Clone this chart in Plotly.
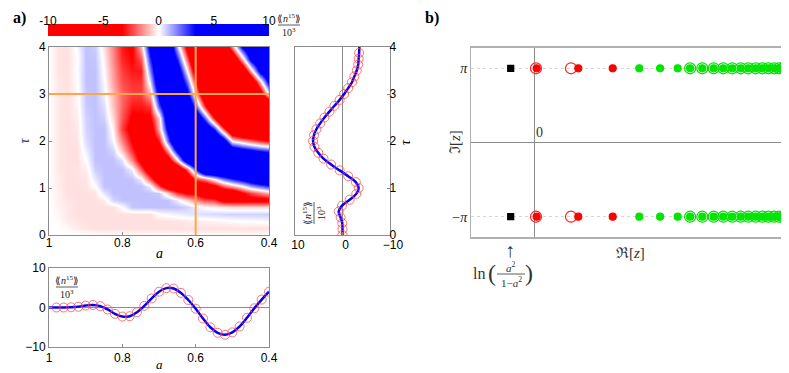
import plotly.graph_objects as go

W, H = 789, 373
OFF = 8  # the page body margin shifts the figure by 8 px

# ---- panel a) heatmap (units of 10^3) ----
A_GRID = [1.0, 0.975, 0.95, 0.925, 0.9, 0.875, 0.85, 0.825, 0.8, 0.775, 0.75, 0.725, 0.7,
          0.675, 0.65, 0.625, 0.6, 0.575, 0.55, 0.525, 0.5, 0.475, 0.45, 0.425, 0.4]
TAU_GRID = [0, 0.05, 0.15, 0.3, 0.45, 0.6, 0.75, 0.9, 1.05, 1.2, 1.4, 1.6, 1.8, 2.0,
            2.25, 2.5, 2.75, 3.0, 3.25, 3.5, 3.75, 4.0]
N15_GRID = [
    [0, 0, 0, 0, 0, 0, 0, 0, 0, 0, 0, 0, 0, 0, 0, 0, 0, 0, 0, 0, 0, 0, 0, 0, 0],
    [0, 0, 0, -0.05, -0.1, -0.12, -0.15, -0.15, -0.15, -0.15, -0.15, -0.15, -0.15,
     -0.15, -0.15, -0.15, -0.15, -0.15, -0.15, -0.15, -0.15, -0.15, -0.15, -0.15, -0.15],
    [0, 0, -0.1, -0.25, -0.35, -0.4, -0.4, -0.4, -0.4, -0.4, -0.4, -0.4, -0.4,
     -0.4, -0.4, -0.4, -0.4, -0.4, -0.4, -0.4, -0.4, -0.4, -0.4, -0.4, -0.4],
    [0, -0.05, -0.25, -0.35, -0.4, -0.4, -0.4, -0.4, -0.4, -0.4, -0.4, -0.4, -0.4,
     -0.4, -0.35, -0.3, -0.23, -0.2, -0.17, -0.1, -0.06, 0, 0.02, 0.05, 0.1],
    [0, -0.1, -0.3, -0.4, -0.4, -0.4, -0.4, -0.4, -0.4, -0.4, -0.4, -0.4, 0,
     0.1, 0.2, 0.3, 0.4, 0.45, 0.5, 0.55, 0.6, 0.6, 0.6, 0.6, 0.6],
    [0, -0.15, -0.3, -0.4, -0.4, -0.4, -0.4, -0.4, 0, 0.75, 0.8, 0.8, 0.8,
     0.8, 0.8, 0.6, 0.2, 0, -0.2, -0.3, -0.5, -0.5, -0.5, -0.5, -0.5],
    [0, -0.2, -0.35, -0.4, -0.4, -0.4, -0.25, 0.55, 0.8, 0.8, 0.8, 0.8, 0.8,
     0.8, 0.25, -0.6, -1.6, -2.3, -2.5, -4, -4, -4, -4, -4, -4],
    [0, -0.2, -0.4, -0.4, -0.4, -0.35, 0.37, 0.8, 0.8, 0.8, 0.8, 0.8, 0.7,
     -0.6, -2.5, -3.5, -3.5, -5, -5.5, -5.5, -5.5, -3.5, -2.4, -1.7, -1.0],
    [0, -0.25, -0.4, -0.4, -0.35, 0, 0.8, 0.8, 0.8, 0.8, 0.8, 0.2, -2.5,
     -5, -6, -6, -5, -5, -3.8, -2.1, -1.0, 0, 1.3, 2.1, 2.8],
    [0, -0.25, -0.4, -0.4, -0.35, 0.3, 0.8, 0.8, 0.8, 0.8, 0.18, -2.2, -5,
     -6, -6, -5.9, -2.5, -1.5, 0, 1.7, 2.8, 3.9, 5, 6, 6.5],
    [0, -0.3, -0.4, -0.35, -0.25, 0.65, 0.8, 0.8, 0.8, 0.18, -2.2, -5, -6,
     -6, -6, -2.0, 3.0, 8, 8, 8, 8, 8, 8, 8, 8],
    [0, -0.3, -0.4, -0.4, 0, 0.8, 0.8, 0.8, 0.37, -1.6, -4, -5.5, -6,
     -4.6, -0.4, 5.4, 8, 8, 8, 8, 8, 8, 8, 7.7, 7],
    [0, -0.3, -0.4, -0.4, 0.25, 0.8, 0.8, 0.55, -0.8, -2.8, -4.5, -5, -5,
     -1.0, 4, 8, 8, 8, 8, 8, 5, 4, 3.3, 2.6, 2.1],
    [0, -0.3, -0.4, -0.35, 0.45, 0.8, 0.8, 0.1, -1.6, -3.4, -5, -5, -3.0,
     2.0, 7, 8, 8, 8, 8, 5, 0, -1.0, -1.8, -2.6, -3.1],
    [0, -0.3, -0.4, -0.3, 0.55, 0.8, 0.8, -0.15, -2.5, -4, -4.5, -4.5, -1.0,
     4, 6, 6, 6, 6, 3.0, -2.0, -6.5, -8, -8, -8, -8],
    [0, -0.3, -0.4, -0.25, 0.6, 0.8, 0.6, -0.5, -2.2, -3.5, -3.5, -3.5, -0.6,
     5.6, 6, 6, 6, 2.0, -3.0, -8, -8, -8, -8, -8, -8],
    [0, -0.3, -0.4, -0.15, 0.7, 0.8, 0.4, -0.8, -2.0, -3.0, -3.0, -2.6, 2.4,
     6, 6, 6, 2.0, -3.0, -8, -8, -8, -8, -8, -8, -8],
    [0, -0.3, -0.4, -0.1, 0.75, 0.8, 0.2, -0.9, -2.0, -2.5, -2.5, -1.0, 4,
     6, 6, 4, -1.0, -6, -8, -8, -8, -8, -8, -5, 0.3],
    [0, -0.3, -0.4, -0.04, 0.8, 0.8, 0.07, -1.2, -2.3, -2.7, -2.7, 0.4, 5.4,
     6, 6, 2.0, -3.0, -8, -8, -8, -8, -8, -6, -1.0, 4],
    [0, -0.35, -0.4, 0, 0.8, 0.8, -0.05, -1.3, -2.5, -3.0, -3.0, 1.6, 6,
     6, 5, 0, -5, -8, -8, -8, -8, -6, -1.0, 4, 6],
    [0, -0.35, -0.4, -0.05, 0.8, 0.75, -0.2, -1.5, -2.8, -3.3, -2.2, 2.8, 6,
     6, 3.0, -2.0, -7, -8, -8, -8, -6, -1.0, 4, 6, 6],
    [0, -0.35, -0.4, 0.07, 0.8, 0.65, -0.4, -1.6, -3.0, -3.5, -1.0, 4.0, 6,
     6, 1.0, -4.0, -8, -8, -8, -6.6, -1.6, 3.4, 6, 6, 6],
]
assert all(len(r) == len(A_GRID) for r in N15_GRID) and len(N15_GRID) == len(TAU_GRID)
CUT_A = 0.6
CUT_TAU = 3.0
CBAR_VALS = [-10, 10]
CBAR_TICKS = [-10, -5, 0, 5, 10]

# ---- cut at a = 0.6 (right panel) ----
TAU_CUT = [0, 0.125, 0.25, 0.375, 0.5, 0.625, 0.75, 0.875, 1.0, 1.125, 1.25, 1.375, 1.5,
           1.625, 1.75, 1.875, 2.0, 2.125, 2.25, 2.375, 2.5, 2.625, 2.75, 2.875, 3.0,
           3.125, 3.25, 3.375, 3.5, 3.625, 3.75, 3.875, 4.0]
N15_A06 = [0, 0, 0.05, 0.4, 0.8, 0.1, -1.5, -2.9, -3.4, -2.8, -1.2, 0.6, 2.4,
           4.0, 5.1, 5.9, 6.2, 6.0, 5.5, 4.7, 3.8, 2.75, 1.7, 0.6, -0.35,
           -1.2, -2.0, -2.5, -3.0, -3.3, -3.4, -3.5, -3.55]

# ---- cut at tau = 3 (bottom panel) ----
A_CUT = [1.0, 0.98, 0.96, 0.94, 0.92, 0.90, 0.88, 0.86, 0.84, 0.82, 0.80, 0.78, 0.76,
         0.74, 0.72, 0.70, 0.68, 0.66, 0.64, 0.62, 0.60, 0.58, 0.56, 0.54, 0.52, 0.50,
         0.48, 0.46, 0.44, 0.42, 0.40]
N15_T3 = [0, 0, 0, 0.05, 0.2, 0.5, 0.65, 0.35, -0.5, -1.6, -2.3, -2.2, -1.2,
          0.4, 2.3, 4.0, 4.9, 4.8, 3.7, 1.9, -0.3, -2.8, -5.0, -6.4, -6.9, -6.3,
          -4.8, -2.6, -0.2, 2.0, 4.0]

# ---- panel b) zeros in the complex plane (Re z), at Im z = +-pi ----
PI = 3.141592653589793
SQUARE_RE = [-1.18]
RED_DOT_RE = [0.12, 2.2, 3.92]
RED_RING_RE = [0.085, 1.835]
GREEN_DOT_RE = [5.25, 6.29, 7.17, 7.79, 8.4, 8.97, 9.45, 9.9, 10.32, 10.7, 11.07,
                11.4, 11.7, 11.99, 12.24, 12.45, 12.65]
GREEN_RING_RE = [7.79, 8.4, 8.97, 9.45, 9.9, 10.32, 10.7, 11.07, 11.4, 11.7,
                 11.99, 12.24, 12.45, 12.65]


def px(x):
    return (x - OFF) / W


def py(y):
    return 1 - (y - OFF) / H


def both_rows(re):
    return re + re, [PI] * len(re) + [-PI] * len(re)


SANS = "Liberation Sans"
SERIF = "Liberation Serif"
GRAY = "#8c8c8c"
RWB = [[0, "rgb(255,0,0)"], [0.335, "rgb(255,0,0)"], [0.5, "rgb(255,255,255)"],
       [0.665, "rgb(0,0,255)"], [1, "rgb(0,0,255)"]]

fig = go.Figure()

fig.add_trace(go.Heatmap(
    x=A_GRID, y=TAU_GRID, z=N15_GRID, zsmooth="best", zmin=-10, zmax=10,
    colorscale=RWB, showscale=False, xaxis="x", yaxis="y",
))
# colour bar drawn as its own strip so the labels can sit on top
fig.add_trace(go.Heatmap(
    x=CBAR_VALS, y=[0, 1], z=[CBAR_VALS, CBAR_VALS], zsmooth="best", zmin=-10, zmax=10,
    colorscale=RWB, showscale=False, xaxis="x5", yaxis="y5",
))

# right cut
fig.add_trace(go.Scatter(x=N15_A06, y=TAU_CUT, mode="lines", line=dict(color="blue", width=2.5, shape="spline"),
                         xaxis="x2", yaxis="y2", showlegend=False))
fig.add_trace(go.Scatter(x=N15_A06[:-1], y=TAU_CUT[:-1], mode="markers",
                         marker=dict(symbol="circle-open", size=9, color="rgba(255,70,70,0.75)", line=dict(width=1)),
                         xaxis="x2", yaxis="y2", showlegend=False))
# bottom cut
fig.add_trace(go.Scatter(x=A_CUT, y=N15_T3, mode="lines", line=dict(color="blue", width=2.5, shape="spline"),
                         xaxis="x3", yaxis="y3", showlegend=False))
fig.add_trace(go.Scatter(x=A_CUT[1:], y=N15_T3[1:], mode="markers",
                         marker=dict(symbol="circle-open", size=9, color="rgba(255,70,70,0.75)", line=dict(width=1)),
                         xaxis="x3", yaxis="y3", showlegend=False))

# panel b
for re, sym, size, col in [
    (GREEN_RING_RE, "circle-open", 11, "#00dd00"),
    (RED_RING_RE, "circle-open", 11, "#ff2020"),
    (GREEN_DOT_RE, "circle", 7, "#00e600"),
    (RED_DOT_RE, "circle", 7, "#ff0000"),
    (SQUARE_RE, "square", 6, "black"),
]:
    xs, ys = both_rows(re)
    fig.add_trace(go.Scatter(x=xs, y=ys, mode="markers",
                             marker=dict(symbol=sym, size=size, color=col, line=dict(width=1.2, color=col)),
                             xaxis="x4", yaxis="y4", showlegend=False))

box = dict(showline=True, linecolor=GRAY, linewidth=1, mirror=True, showgrid=False,
           ticks="inside", ticklen=3, tickcolor=GRAY,
           tickfont=dict(family=SANS, size=12, color="black"))
dom_heat_x = [px(49), px(269)]
dom_heat_y = [py(235), py(47)]

fig.update_layout(
    width=W, height=H, margin=dict(l=0, r=0, t=0, b=0, autoexpand=False),
    paper_bgcolor="white", plot_bgcolor="white", showlegend=False,
    xaxis=dict(box, domain=dom_heat_x, range=[1, 0.4], tickvals=[1, 0.8, 0.6, 0.4],
               ticktext=["1", "0.8", "0.6", "0.4"], zeroline=False, ticklabelstandoff=-3),
    yaxis=dict(box, domain=dom_heat_y, range=[0, 4], tickvals=[0, 1, 2, 3, 4], zeroline=False,
               title=dict(text="<i>τ</i>", font=dict(family=SERIF, size=14), standoff=6)),
    xaxis2=dict(box, domain=[px(295), px(390)], range=[10, -10], anchor="y2",
                tickvals=[10, 0, -10], ticktext=["10", "0", "−10"], ticklabelstandoff=-1,
                ticklabelshift=-3,
                zeroline=True, zerolinecolor=GRAY, zerolinewidth=1),
    yaxis2=dict(box, domain=dom_heat_y, range=[0, 4], anchor="x2", side="right",
                tickvals=[0, 1, 2, 3, 4], zeroline=False, ticklabelstandoff=-4),
    xaxis3=dict(box, domain=dom_heat_x, range=[1, 0.4], anchor="y3",
                tickvals=[1, 0.8, 0.6, 0.4], ticktext=["1", "0.8", "0.6", "0.4"], zeroline=False),
    yaxis3=dict(box, domain=[py(347), py(268)], range=[-10, 10], anchor="x3",
                tickvals=[-10, 0, 10], ticktext=["−10", "0", "10"],
                zeroline=True, zerolinecolor=GRAY, zerolinewidth=1),
    xaxis4=dict(domain=[px(471), px(787)], range=[-3.165, 12.635], anchor="y4",
                showline=True, linecolor="#b0b0b0", linewidth=1.5, mirror=True,
                showgrid=False, showticklabels=False, ticks="",
                zeroline=True, zerolinecolor=GRAY, zerolinewidth=1),
    yaxis4=dict(domain=[py(237), py(48)], range=[-4, 4], anchor="x4",
                showline=True, linecolor="#b0b0b0", linewidth=1, mirror=True,
                tickvals=[-PI, PI], ticktext=["−<i>π</i>", "<i>π</i>"], ticks="",
                tickfont=dict(family=SERIF, size=14, color="#222"),
                showgrid=True, gridcolor="#d6d6d6", gridwidth=1, griddash="dot",
                zeroline=True, zerolinecolor=GRAY, zerolinewidth=1),
    xaxis5=dict(domain=[px(48), px(269)], range=[-10, 10], anchor="y5", side="top",
                tickvals=CBAR_TICKS, ticktext=[str(v) for v in CBAR_TICKS], ticks="",
                showline=False, showgrid=False, zeroline=False, ticklabelstandoff=-4,
                tickfont=dict(family=SANS, size=12, color="black")),
    yaxis5=dict(domain=[py(36), py(24)], range=[0, 1], anchor="x5", visible=False),
)

# crosshair in the heatmap
fig.add_shape(type="line", xref="x", yref="y", x0=CUT_A, x1=CUT_A, y0=0, y1=4,
              line=dict(color="#ffa64d", width=2))
fig.add_shape(type="line", xref="x", yref="y", x0=1, x1=0.4, y0=CUT_TAU, y1=CUT_TAU,
              line=dict(color="#ffa64d", width=2))


def note(x, y, text, size=10, angle=0, color="#222", family=SERIF):
    fig.add_annotation(x=px(x), y=py(y), xref="paper", yref="paper", text=text, textangle=angle,
                       xanchor="center", yanchor="middle", showarrow=False,
                       font=dict(family=family, size=size, color=color))


def hline(x0, x1, y):
    fig.add_shape(type="line", xref="paper", yref="paper", x0=px(x0), x1=px(x1), y0=py(y), y1=py(y),
                  line=dict(color="#333", width=0.8))


def vline(x, y0, y1):
    fig.add_shape(type="line", xref="paper", yref="paper", x0=px(x), x1=px(x), y0=py(y0), y1=py(y1),
                  line=dict(color="#333", width=0.8))


NUM = "⟪<i>n</i><sup>15</sup>⟫"
DEN = "10<sup>3</sup>"
# colour bar label
note(289, 18, NUM)
hline(278, 300, 25)
note(289, 32, DEN)
# bottom panel label
note(67, 280, NUM)
hline(56, 78, 287)
note(67, 294, DEN)
# right panel label (rotated)
note(307, 213, NUM, angle=-90)
vline(314, 202, 224)
note(321, 213, DEN, angle=-90)

note(19, 18, "<b>a)</b>", size=16, color="black")
note(432, 18, "<b>b)</b>", size=16, color="black")
note(159, 253, "<i>a</i>", size=14, color="black")
note(159, 364, "<i>a</i>", size=13, color="black")
note(405, 142, "<i>τ</i>", size=14, angle=-90, color="black")

# panel b annotations
note(455, 142, "ℑ[<i>z</i>]", size=15, angle=-90, color="#333")
note(630, 253, "ℜ[<i>z</i>]", size=15, color="#333")
note(539, 132, "0", size=14, color="#333")
note(510, 250, "↑", size=20, color="#333")
note(479, 273, "ln", size=16, color="#333")
note(492, 273, "(", size=24, color="#333")
note(529, 273, ")", size=24, color="#333")
note(511, 267, "<i>a</i><sup>2</sup>", size=11, color="#333")
hline(497, 525, 274)
note(511, 282, "1−<i>a</i><sup>2</sup>", size=11, color="#333")

fig.write_html("out.html")
